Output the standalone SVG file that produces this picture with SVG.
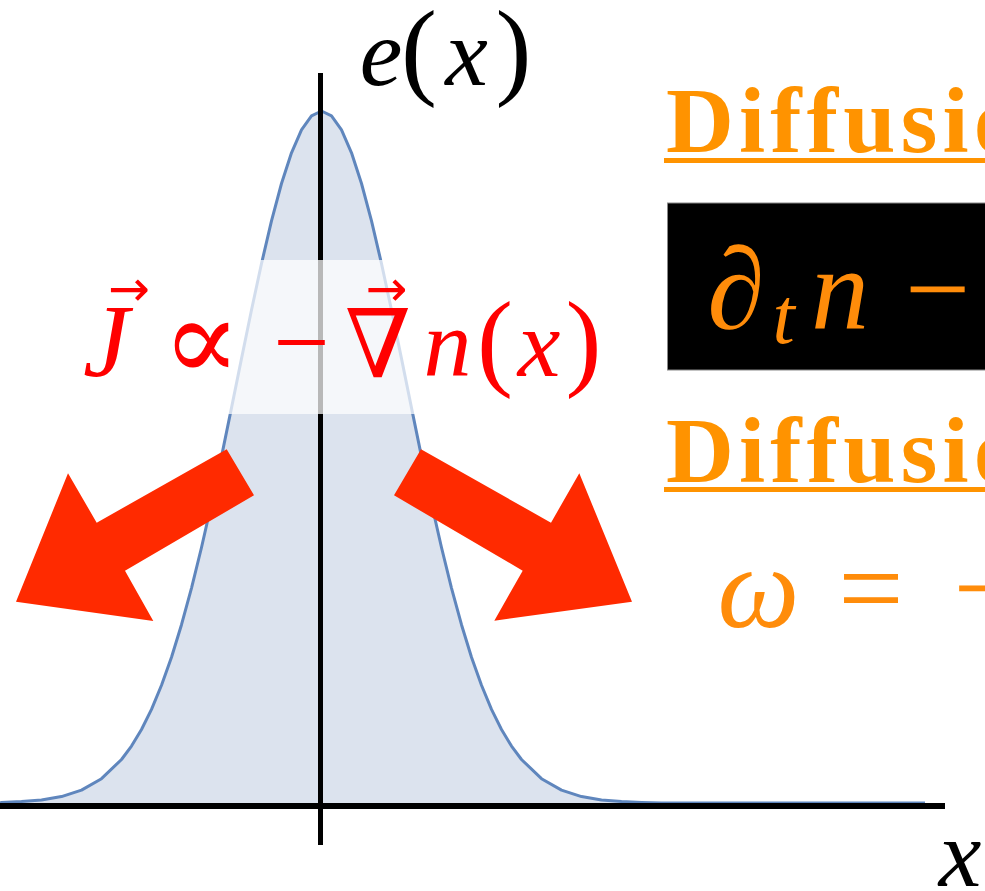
<svg xmlns="http://www.w3.org/2000/svg" width="985" height="891" viewBox="0 0 985 891">
<rect width="985" height="891" fill="#ffffff"/>

<g id="curve">
<path d="M 0 803 L 1.5 802.4 L 21.5 801.6 L 41.5 800 L 61.5 796.6 L 81.5 790.1 L 101.5 778.7 L 121.5 759.5 L 131.5 746.1 L 141.5 729.5 L 151.5 709.4 L 161.5 685.3 L 171.5 657.2 L 181.5 624.7 L 191.5 588.1 L 201.5 547.5 L 211.5 503.5 L 221.5 456.6 L 231.5 407.9 L 241.5 358.6 L 251.5 310 L 261.5 263.6 L 271.5 220.9 L 281.5 183.5 L 291.5 152.8 L 301.5 129.9 L 311.5 115.8 L 321.5 111 L 331.5 115.8 L 341.5 129.9 L 351.5 152.8 L 361.5 183.5 L 371.5 220.9 L 381.5 263.6 L 391.5 310 L 401.5 358.6 L 411.5 407.9 L 421.5 456.6 L 431.5 503.5 L 441.5 547.5 L 451.5 588.1 L 461.5 624.7 L 471.5 657.2 L 481.5 685.3 L 491.5 709.4 L 501.5 729.5 L 511.5 746.1 L 521.5 759.5 L 541.5 778.7 L 561.5 790.1 L 581.5 796.6 L 601.5 800 L 621.5 801.6 L 641.5 802.4 L 661.5 803 L 925 803" fill="#dce3ee" stroke="#5f86bd" stroke-width="3" stroke-linejoin="round"/>
</g>

<g id="axes" stroke="#000000" fill="none">
<line x1="0" y1="806" x2="945" y2="806" stroke-width="6"/>
<line x1="320.5" y1="73" x2="320.5" y2="845" stroke-width="5"/>
</g>

<g id="band">
<rect x="70" y="260" width="540" height="154" fill="#ffffff" fill-opacity="0.72"/>
</g>

<g id="axis-labels" fill="#000000" font-size="40" text-anchor="middle">
<text transform="translate(381 85) scale(2.4)" font-family="'Liberation Serif'" font-style="italic">e</text>
<text transform="translate(419 85) scale(2.7)" font-family="'Liberation Serif'">(</text>
<text transform="translate(466.5 85) scale(2.4)" font-family="'Liberation Serif'" font-style="italic">x</text>
<text transform="translate(513.5 85) scale(2.7)" font-family="'Liberation Serif'">)</text>
<text transform="translate(960 886) scale(2.4)" font-family="'Liberation Serif'" font-style="italic">x</text>
</g>

<g id="flux-label" fill="#ff0000" font-size="40" text-anchor="middle">
<text transform="translate(106 376) scale(2.6)" font-family="'Liberation Serif'" font-style="italic">J</text>
<text transform="translate(129 306) scale(1.25)" font-family="'DejaVu Sans'">→</text>
<text transform="translate(201.5 380) scale(2.9)" font-family="'DejaVu Serif'">∝</text>
<text transform="translate(301.5 376) scale(2.5)" font-family="'Liberation Serif'">−</text>
<text transform="translate(378 377) scale(2.375)" font-family="'DejaVu Serif'">∇</text>
<text transform="translate(386.5 306) scale(1.25)" font-family="'DejaVu Sans'">→</text>
<text transform="translate(447.5 376) scale(2.4)" font-family="'Liberation Serif'" font-style="italic">n</text>
<text transform="translate(495 376) scale(2.7)" font-family="'Liberation Serif'">(</text>
<text transform="translate(539 376) scale(2.4)" font-family="'Liberation Serif'" font-style="italic">x</text>
<text transform="translate(583.5 376) scale(2.7)" font-family="'Liberation Serif'">)</text>
</g>

<g id="flow-arrows" fill="#ff2a00">
<polygon points="226.7,449.3 254,495.3 125,570.7 153.3,621 16,601.7 68,473.3 96.7,522.7"/>
<polygon points="421,449.3 394,495.3 522.7,570.7 494.3,620.7 632,601.7 579.3,473.3 551,522.7"/>
</g>

<g id="header1" fill="#ff9300">
<text transform="translate(666 152) scale(2.35)" font-family="'Liberation Serif'" font-weight="bold" font-size="40" letter-spacing="2.2">Diffusio</text>
<rect x="664" y="158" width="330" height="5"/>
</g>

<g id="equation-box">
<rect x="667.5" y="203" width="330" height="167" fill="#000000" stroke="#888888" stroke-width="1"/>
<g fill="#ff8c0a" font-size="40" text-anchor="middle">
<text transform="translate(736 328) scale(2.9)" font-family="'Liberation Serif'" font-style="italic">∂</text>
<text transform="translate(783.5 343) scale(2)" font-family="'Liberation Serif'" font-style="italic">t</text>
<text transform="translate(840 328) scale(2.9)" font-family="'Liberation Serif'" font-style="italic">n</text>
<text transform="translate(937.5 328) scale(2.9)" font-family="'Liberation Serif'">−</text>
</g>
</g>

<g id="header2" fill="#ff9300">
<text transform="translate(666 482) scale(2.35)" font-family="'Liberation Serif'" font-weight="bold" font-size="40" letter-spacing="2.2">Diffusio</text>
<rect x="664" y="487" width="330" height="5"/>
</g>

<g id="dispersion" fill="#ff8c0a" font-size="40" text-anchor="middle">
<text transform="translate(758.5 627) scale(2.9)" font-family="'Liberation Serif'" font-style="italic">ω</text>
<text transform="translate(871 627) scale(2.9)" font-family="'Liberation Serif'">=</text>
<text transform="translate(986 627) scale(2.9)" font-family="'Liberation Serif'">−</text>
</g>
</svg>
